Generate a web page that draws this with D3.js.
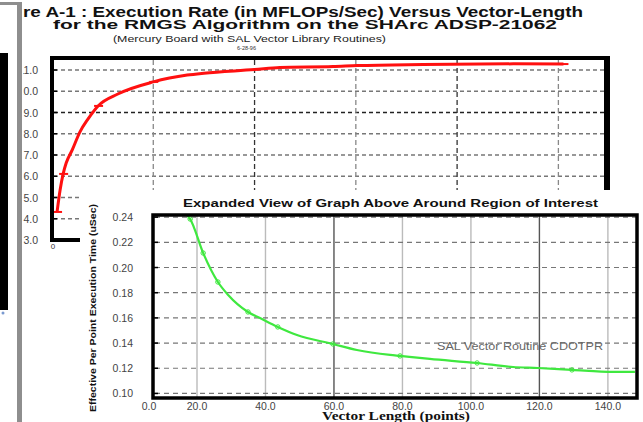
<!DOCTYPE html>
<html>
<head>
<meta charset="utf-8">
<script src="https://cdn.jsdelivr.net/npm/d3@7"></script>
<style>
  html, body { margin: 0; padding: 0; background: #fff; }
  svg { display: block; }
</style>
</head>
<body>
<svg id="chart" width="643" height="422"></svg>
<script>
// ---- Main plot: execution rate vs vector length (RMGS, SAL routines) ----
const rateLength = [10, 16, 22, 28, 40, 55, 71, 91, 130, 200, 267, 300, 400, 450, 555, 603, 733, 911, 1010];
const rateValue  = [4.32, 5.35, 6.11, 6.62, 7.24, 8.08, 8.69, 9.31, 9.87, 10.44, 10.76, 10.85, 11.02, 11.12, 11.16, 11.21, 11.26, 11.29, 11.28];
const rateMarked = [0, 2, 7, 9, 18];
const rateYTicks = [3, 4, 5, 6, 7, 8, 9, 10, 11];
const rateXTicks = [0, 200, 400, 600, 800, 1000];

// ---- Inset: per-point execution time of CDOTPR ----
const timeLength = [17.0, 18.0, 21.8, 26.1, 29.1, 34.9, 38.4, 43.6, 49.2, 59.7, 66.7, 76.4, 79.3, 88.0, 101.8, 112.3, 119.6, 129.5, 141.5, 147.9];
const timeValue  = [0.2417, 0.2385, 0.2115, 0.1885, 0.1782, 0.1647, 0.1599, 0.1528, 0.1464, 0.1393, 0.1345, 0.1306, 0.1298, 0.1274, 0.1242, 0.1210, 0.1202, 0.1187, 0.1171, 0.1171];
const timeMarked = [1, 2, 3, 5, 7, 9, 12, 14, 17];
const timeYTicks = [0.10, 0.12, 0.14, 0.16, 0.18, 0.20, 0.22, 0.24];
const timeXTicks = [20, 40, 60, 80, 100, 120, 140];

const titleLine1 = "Figure A-1 : Execution Rate (in MFLOPs/Sec) Versus Vector-Length";
const titleLine2 = "for the RMGS Algorithm on the SHArc ADSP-21062";
const titleLine3 = "(Mercury Board with SAL Vector Library Routines)";
const titleDate  = "6-28-96";
const insetTitle = "Expanded View of Graph Above Around Region of Interest";
const insetYLabel = "Effective Per Point Execution Time (uSec)";
const insetXLabel = "Vector Length (points)";
const seriesNote = "SAL Vector Routine CDOTPR";

const SANS = "'Liberation Sans', Arial, Helvetica, sans-serif";
const SERIF = "'Liberation Serif', 'Times New Roman', serif";

const svg = d3.select("#chart");
const defs = svg.append("defs");
defs.append("clipPath").attr("id", "pageClip")
  .append("rect").attr("x", 23).attr("y", 0).attr("width", 620).attr("height", 422);
defs.append("clipPath").attr("id", "insetClip")
  .append("rect").attr("x", 153).attr("y", 215).attr("width", 484).attr("height", 183);

svg.append("rect").attr("width", 643).attr("height", 422).attr("fill", "#fff");

const page = svg.append("g").attr("clip-path", "url(#pageClip)");

// Stretch a text horizontally (keeping its font size) so that the part of the
// string from `visibleFrom` onwards spans x0..x1.
function stretchText(sel, str, visibleFrom, x0, x1) {
  const node = sel.node();
  const total = node.getComputedTextLength();
  const vis = node.getSubStringLength(visibleFrom, str.length - visibleFrom);
  const target = total * (x1 - x0) / vis;
  sel.attr("textLength", target).attr("lengthAdjust", "spacingAndGlyphs")
     .attr("x", x1 - target);
}

// ---- Headings ----
const h1 = page.append("text").attr("font-family", SANS).attr("font-weight", "bold")
  .attr("font-size", 14).attr("y", 17).attr("fill", "#111").text(titleLine1);
stretchText(h1, titleLine1, titleLine1.indexOf("re A-1"), 23, 583);

const h2 = page.append("text").attr("font-family", SANS).attr("font-weight", "bold")
  .attr("font-size", 13).attr("y", 28.5).attr("fill", "#111").text(titleLine2);
stretchText(h2, titleLine2, 0, 53, 557);

const h3 = page.append("text").attr("font-family", SANS)
  .attr("font-size", 9).attr("y", 42).attr("fill", "#222").text(titleLine3);
stretchText(h3, titleLine3, 0, 113, 386);

const h4 = page.append("text").attr("font-family", SANS)
  .attr("font-size", 6).attr("y", 50).attr("fill", "#333").text(titleDate);
stretchText(h4, titleDate, 0, 237, 256);

// ---- Main plot ----
const x = d3.scaleLinear().domain([0, 1096]).range([52, 607]);
const y = d3.scaleLinear().domain([3, 11.565]).range([240, 58]);

const mainGrid = page.append("g");
mainGrid.selectAll("line.h").data(rateYTicks.slice(1)).join("line")
  .attr("x1", 54).attr("x2", 604)
  .attr("y1", d => y(d)).attr("y2", d => y(d))
  .attr("stroke", d => d === 9 ? "#222" : "#777").attr("stroke-width", 1.3)
  .attr("stroke-dasharray", "4,3");
mainGrid.selectAll("line.v").data(rateXTicks.slice(1)).join("line")
  .attr("x1", d => x(d)).attr("x2", d => x(d))
  .attr("y1", 60).attr("y2", 240)
  .attr("stroke", (d, i) => i % 2 ? "#333" : "#888").attr("stroke-width", 1.3)
  .attr("stroke-dasharray", "5,3");

// left-axis ticks
mainGrid.selectAll("line.t").data(rateYTicks).join("line")
  .attr("x1", 52).attr("x2", 57)
  .attr("y1", d => y(d)).attr("y2", d => y(d))
  .attr("stroke", "#000").attr("stroke-width", 1.5);

// y tick labels
page.selectAll("text.ry").data(rateYTicks).join("text")
  .attr("x", 38).attr("y", d => y(d) + 4)
  .attr("text-anchor", "end").attr("font-family", SANS).attr("font-size", 10.5)
  .attr("fill", "#444").text(d => d.toFixed(1));

// x tick label at origin
page.append("text").attr("x", x(0) + 1).attr("y", 249)
  .attr("text-anchor", "middle").attr("font-family", SANS).attr("font-size", 8)
  .attr("fill", "#333").text(d3.format(".0f")(rateXTicks[0]));

// red rate curve
const rateData = rateLength.map((d, i) => [d, rateValue[i]]);
const rateLine = d3.line().x(d => x(d[0])).y(d => y(d[1])).curve(d3.curveMonotoneX);
page.append("path").datum(rateData).attr("d", rateLine)
  .attr("fill", "none").attr("stroke", "#ff1010").attr("stroke-width", 3)
  .attr("stroke-linejoin", "round");
page.selectAll("line.rm").data(rateMarked.map(i => rateData[i])).join("line")
  .attr("x1", d => x(d[0]) - 4).attr("x2", d => x(d[0]) + 5)
  .attr("y1", d => y(d[1])).attr("y2", d => y(d[1]))
  .attr("stroke", "#ff1010").attr("stroke-width", 2);

// frame of main plot
page.append("line").attr("x1", 50).attr("x2", 610).attr("y1", 58).attr("y2", 58)
  .attr("stroke", "#000").attr("stroke-width", 4);
page.append("line").attr("x1", 52).attr("x2", 52).attr("y1", 56).attr("y2", 242)
  .attr("stroke", "#000").attr("stroke-width", 4);
page.append("line").attr("x1", 50).attr("x2", 110).attr("y1", 240).attr("y2", 240)
  .attr("stroke", "#000").attr("stroke-width", 4);
page.append("line").attr("x1", 607).attr("x2", 607).attr("y1", 56).attr("y2", 190)
  .attr("stroke", "#000").attr("stroke-width", 6);

// ---- Inset panel ----
page.append("rect").attr("x", 80).attr("y", 190).attr("width", 563).attr("height", 232).attr("fill", "#fff");

const xi = d3.scaleLinear().domain([7.15, 148.5]).range([153, 637]);
const yi = d3.scaleLinear().domain([0.0956, 0.2417]).range([399, 215]);

const ig = page.append("g");
ig.selectAll("line.v").data(timeXTicks).join("line")
  .attr("x1", d => xi(d)).attr("x2", d => xi(d))
  .attr("y1", 216).attr("y2", 398)
  .attr("stroke", d => (d === 60 || d === 120) ? "#555" : "#bbb").attr("stroke-width", 1.4);
ig.selectAll("line.h").data(timeYTicks).join("line")
  .attr("x1", 155).attr("x2", 636)
  .attr("y1", d => yi(d)).attr("y2", d => yi(d))
  .attr("stroke", "#777").attr("stroke-width", 1.2)
  .attr("stroke-dasharray", "5,4");
ig.selectAll("line.t").data(timeYTicks).join("line")
  .attr("x1", 153).attr("x2", 158)
  .attr("y1", d => yi(d)).attr("y2", d => yi(d))
  .attr("stroke", "#000").attr("stroke-width", 1.5);

// green per-point time curve
const timeData = timeLength.map((d, i) => [d, timeValue[i]]);
const timeLine = d3.line().x(d => xi(d[0])).y(d => yi(d[1])).curve(d3.curveMonotoneX);
const curveG = ig.append("g").attr("clip-path", "url(#insetClip)");
curveG.append("path").datum(timeData).attr("d", timeLine)
  .attr("fill", "none").attr("stroke", "#3fe83f").attr("stroke-width", 2.2);
curveG.selectAll("circle").data(timeMarked.map(i => timeData[i])).join("circle")
  .attr("cx", d => xi(d[0])).attr("cy", d => yi(d[1])).attr("r", 2.2)
  .attr("fill", "none").attr("stroke", "#3fe83f").attr("stroke-width", 1);

// inset frame
ig.append("rect").attr("x", 153).attr("y", 215).attr("width", 484).attr("height", 183)
  .attr("fill", "none").attr("stroke", "#000").attr("stroke-width", 3.5);

// inset tick labels
ig.selectAll("text.yl").data(timeYTicks).join("text")
  .attr("x", 133).attr("y", d => yi(d) + 4)
  .attr("text-anchor", "end").attr("font-family", SANS).attr("font-size", 10.5)
  .attr("fill", "#444").text(d => d.toFixed(2));
ig.selectAll("text.xl").data([xi.domain()[0]].concat(timeXTicks)).join("text")
  .attr("x", (d, i) => i === 0 ? 149 : xi(d)).attr("y", 410)
  .attr("text-anchor", "middle").attr("font-family", SANS).attr("font-size", 10.5)
  .attr("fill", "#444").text((d, i) => i === 0 ? "0.0" : d.toFixed(1));

// inset titles
const it = ig.append("text").attr("font-family", SANS).attr("font-weight", "bold")
  .attr("font-size", 10).attr("y", 207).attr("fill", "#111").text(insetTitle);
stretchText(it, insetTitle, 0, 183, 598);

ig.append("text").attr("font-family", SANS).attr("font-weight", "bold")
  .attr("font-size", 9).attr("text-anchor", "middle")
  .attr("transform", "translate(96,308) rotate(-90)")
  .attr("fill", "#111").attr("textLength", 208).attr("lengthAdjust", "spacingAndGlyphs")
  .text(insetYLabel);

ig.append("text").attr("font-family", SERIF).attr("font-weight", "bold")
  .attr("font-size", 12).attr("x", 396).attr("y", 420).attr("text-anchor", "middle")
  .attr("textLength", 148).attr("lengthAdjust", "spacingAndGlyphs")
  .attr("fill", "#111").text(insetXLabel);

const note = ig.append("text").attr("font-family", SANS)
  .attr("font-size", 10).attr("y", 350).attr("fill", "#666").text(seriesNote);
stretchText(note, seriesNote, 0, 437, 603);

// ---- Page edge: scanned margin marks ----
svg.append("rect").attr("x", 0).attr("y", 53).attr("width", 8).attr("height", 257).attr("fill", "#000");
svg.append("rect").attr("x", 17).attr("y", 2).attr("width", 5).attr("height", 420).attr("fill", "#8e8e8e");
svg.append("rect").attr("x", 0).attr("y", 2).attr("width", 22).attr("height", 3).attr("fill", "#8e8e8e");
svg.append("circle").attr("cx", 3).attr("cy", 313).attr("r", 1.5).attr("fill", "#7a9ad0");
</script>
</body>
</html>
